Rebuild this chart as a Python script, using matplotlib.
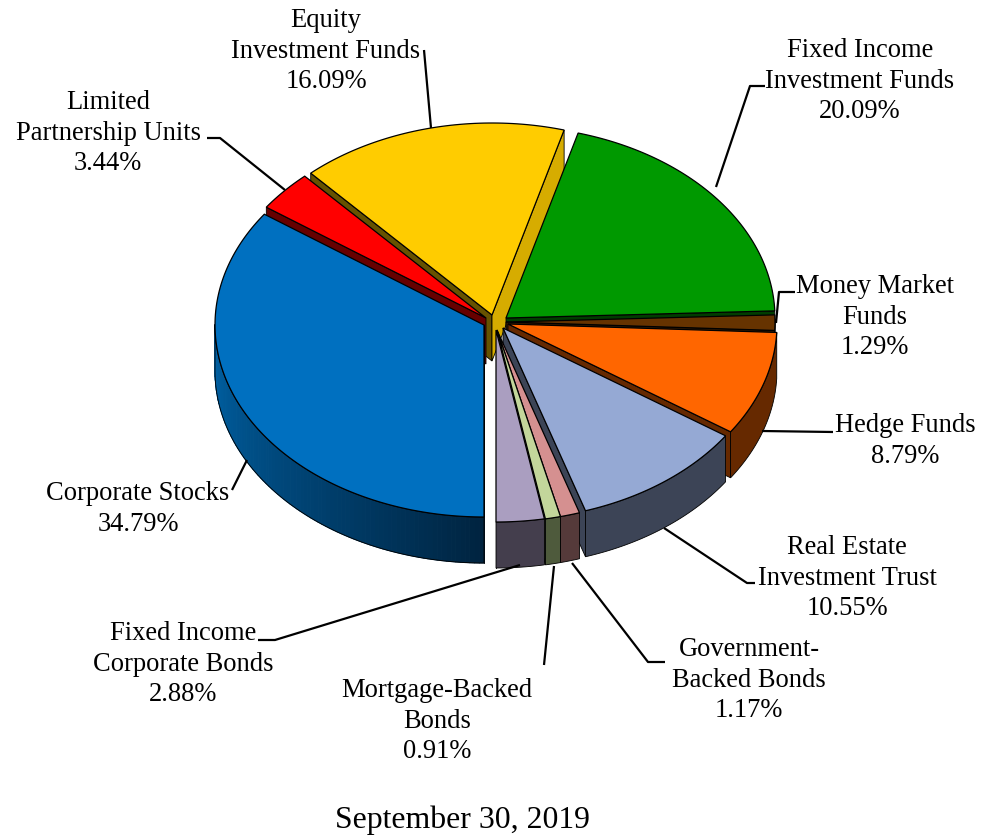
import numpy as np
import matplotlib
matplotlib.use('Agg')
import matplotlib.pyplot as plt

plt.rcParams['font.family'] = ['Liberation Serif', 'DejaVu Serif']

# data, clockwise from 6 o'clock
names = ['Corporate Stocks', 'Limited\nPartnership Units', 'Equity\nInvestment Funds',
         'Fixed Income\nInvestment Funds', 'Money Market\nFunds', 'Hedge Funds',
         'Real Estate\nInvestment Trust', 'Government-\nBacked Bonds',
         'Mortgage-Backed\nBonds', 'Fixed Income\nCorporate Bonds']
values = [34.79, 3.44, 16.09, 20.09, 1.29, 8.79, 10.55, 1.17, 0.91, 2.88]
caption = 'September 30, 2019'

# look of each slice
top_colors = ['#0070c0', '#ff0000', '#ffcc00', '#009900', '#663300',
              '#ff6600', '#95a9d4', '#d59090', '#c3d69b', '#aa9ec0']
wall_colors = ['#003f6e', '#660000', '#665200', '#003d00', '#331a00',
               '#662900', '#3c4456', '#553a3a', '#4e5a3c', '#443e4d']
apex_x = [484, 486, 492, 506, 506, 508, 503, 497, 497, 496]
apex_y = [325, 318, 315, 318, 322, 324, 328, 330, 330, 330]
label_x = [138, 108, 326, 860, 875, 905, 847, 749, 437, 183]
label_y = [509, 133, 51, 81, 317, 441, 578, 680, 721, 664]
leaders = [[(232, 490), (247, 460)],
           [(207, 138), (220, 138), (285, 190)],
           [(424, 50), (431, 128)],
           [(716, 187), (750, 86), (765, 86)],
           [(776, 323), (779, 292), (795, 292)],
           [(762, 431), (833, 432)],
           [(664, 528), (747, 583), (755, 583)],
           [(572, 563), (648, 662), (665, 662)],
           [(554, 566), (544, 665)],
           [(520, 565), (275, 640), (258, 640)]]
draw_order = [2, 1, 3, 4, 5, 0, 6, 7, 8, 9]

rx, ry, depth = 269, 192, 46
yellow_front_wall = '#d6ac00'  # the equity slice's right cut face is lit

fig = plt.figure(figsize=(9.95, 8.38), dpi=100)
ax = fig.add_axes([0, 0, 1, 1])
ax.set_xlim(0, 995)
ax.set_ylim(838, 0)
ax.axis('off')


def rim(cx, cy, th):
    return cx - rx * np.sin(th), cy + ry * np.cos(th)


def blend(c1, c2, t):
    a = np.array(matplotlib.colors.to_rgb(c1))
    b = np.array(matplotlib.colors.to_rgb(c2))
    return a + (b - a) * t


edges = np.radians(np.concatenate([[0], np.cumsum(values)]) * 3.6)

for i in draw_order:
    cx, cy = apex_x[i], apex_y[i]
    t0, t1 = edges[i], edges[i + 1]
    th = np.linspace(t0, t1, max(int(np.degrees(t1 - t0)), 4) + 1)
    x, y = rim(cx, cy, th)
    mx, my = rim(cx, cy, (t0 + t1) / 2)

    # cut faces, only those looking towards the viewer
    for ex, ey, side in [(x[0], y[0], 0), (x[-1], y[-1], 1)]:
        if ((ex - cx) * (my - cy) - (ey - cy) * (mx - cx)) * (ex - cx) > 0:
            continue
        c = wall_colors[i]
        if i == 2 and side == 1:
            c = yellow_front_wall
        ax.fill([cx, ex, ex, cx], [cy, ey, ey + depth, cy + depth],
                facecolor=c, edgecolor='black', lw=0.6, zorder=1)

    # outer wall on the front half
    front = np.cos(th) > -0.02
    if front.any():
        wx, wy = x[front], y[front]
        if i == 0:
            # shaded strip by strip, dark near the gap
            for k in range(len(wx) - 1):
                t = k / (len(wx) - 2)
                c = blend('#00233f', '#0062a6', t ** 0.9)
                ax.fill([wx[k], wx[k + 1], wx[k + 1], wx[k]],
                        [wy[k], wy[k + 1], wy[k + 1] + depth, wy[k] + depth],
                        facecolor=c, edgecolor=c, lw=0.8, zorder=1)
            ax.fill(np.r_[wx, wx[::-1]], np.r_[wy, wy[::-1] + depth],
                    facecolor='none', edgecolor='black', lw=0.6, zorder=1)
        else:
            ax.fill(np.r_[wx, wx[::-1]], np.r_[wy, wy[::-1] + depth],
                    facecolor=wall_colors[i], edgecolor='black', lw=0.6, zorder=1)

    ax.fill(np.r_[cx, x], np.r_[cy, y], facecolor=top_colors[i],
            edgecolor='black', lw=0.9, zorder=1)

for i, name in enumerate(names):
    xs, ys = zip(*leaders[i])
    ax.plot(xs, ys, color='black', lw=1.6, zorder=2, solid_capstyle='butt')
    ax.text(label_x[i], label_y[i], '%s\n%.2f%%' % (name, values[i]), ha='center',
            va='center', fontsize=19.1, linespacing=1.31, zorder=3)

ax.text(462, 820, caption, ha='center', va='center', fontsize=22.9)

fig.savefig('out.png', dpi=100)
